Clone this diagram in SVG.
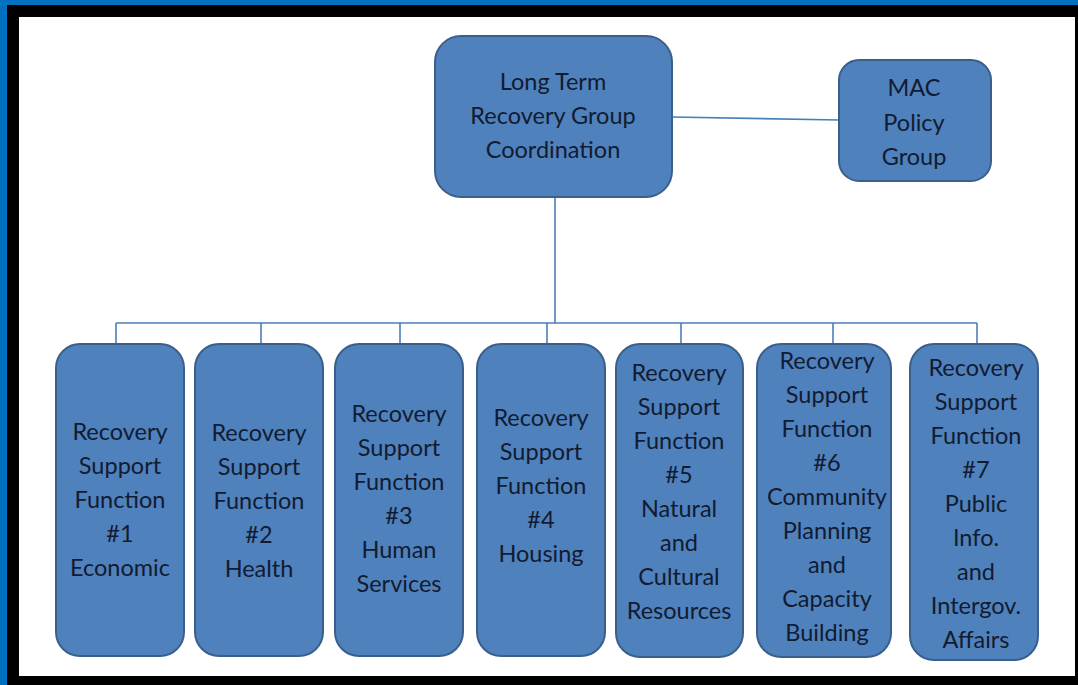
<svg xmlns="http://www.w3.org/2000/svg" width="1078" height="685" viewBox="0 0 1078 685">
  <style>
    .box { fill: #4F81BD; stroke: #3A5F8C; stroke-width: 2; }
    .lbl { font-family: Lato, "Liberation Sans", sans-serif; font-size: 23.5px; fill: #121b30; text-anchor: middle; }
    .conn { stroke: #4A7EBB; stroke-width: 1.6; fill: none; }
  </style>
  <rect x="0" y="0" width="1078" height="685" fill="#0070C0"/>
  <rect x="7" y="5" width="1071" height="680" fill="#000000"/>
  <rect x="19" y="17" width="1056" height="659" fill="#FFFFFF"/>

  <g id="connectors">
    <line class="conn" x1="672" y1="117" x2="839" y2="120"/>
    <line class="conn" x1="555" y1="197" x2="555" y2="323"/>
    <line class="conn" x1="116" y1="323" x2="977" y2="323"/>
    <line class="conn" x1="116" y1="323" x2="116" y2="344"/>
    <line class="conn" x1="261" y1="323" x2="261" y2="344"/>
    <line class="conn" x1="400" y1="323" x2="400" y2="344"/>
    <line class="conn" x1="547" y1="323" x2="547" y2="344"/>
    <line class="conn" x1="681" y1="323" x2="681" y2="344"/>
    <line class="conn" x1="833" y1="323" x2="833" y2="344"/>
    <line class="conn" x1="977" y1="323" x2="977" y2="344"/>
  </g>

  <g id="ltrg">
    <rect class="box" x="435" y="36" width="237" height="161" rx="26"/>
    <text class="lbl" x="553"><tspan x="553" y="90">Long Term</tspan><tspan x="553" y="124">Recovery Group</tspan><tspan x="553" y="158">Coordination</tspan></text>
  </g>

  <g id="mac">
    <rect class="box" x="839" y="60" width="152" height="121" rx="20"/>
    <text class="lbl"><tspan x="914" y="96">MAC</tspan><tspan x="914" y="131">Policy</tspan><tspan x="914" y="165">Group</tspan></text>
  </g>

  <g id="rsf1">
    <rect class="box" x="56" y="344" width="128" height="312" rx="24"/>
    <text class="lbl"><tspan x="120" y="440">Recovery</tspan><tspan x="120" y="474">Support</tspan><tspan x="120" y="508">Function</tspan><tspan x="120" y="542">#1</tspan><tspan x="120" y="576">Economic</tspan></text>
  </g>

  <g id="rsf2">
    <rect class="box" x="195" y="344" width="128" height="312" rx="24"/>
    <text class="lbl"><tspan x="259" y="441">Recovery</tspan><tspan x="259" y="475">Support</tspan><tspan x="259" y="509">Function</tspan><tspan x="259" y="543">#2</tspan><tspan x="259" y="577">Health</tspan></text>
  </g>

  <g id="rsf3">
    <rect class="box" x="335" y="344" width="128" height="312" rx="24"/>
    <text class="lbl"><tspan x="399" y="422">Recovery</tspan><tspan x="399" y="456">Support</tspan><tspan x="399" y="490">Function</tspan><tspan x="399" y="524">#3</tspan><tspan x="399" y="558">Human</tspan><tspan x="399" y="592">Services</tspan></text>
  </g>

  <g id="rsf4">
    <rect class="box" x="477" y="344" width="128" height="312" rx="24"/>
    <text class="lbl"><tspan x="541" y="426">Recovery</tspan><tspan x="541" y="460">Support</tspan><tspan x="541" y="494">Function</tspan><tspan x="541" y="528">#4</tspan><tspan x="541" y="562">Housing</tspan></text>
  </g>

  <g id="rsf5">
    <rect class="box" x="616" y="344" width="127" height="313" rx="24"/>
    <text class="lbl"><tspan x="679" y="381">Recovery</tspan><tspan x="679" y="415">Support</tspan><tspan x="679" y="449">Function</tspan><tspan x="679" y="483">#5</tspan><tspan x="679" y="517">Natural</tspan><tspan x="679" y="551">and</tspan><tspan x="679" y="585">Cultural</tspan><tspan x="679" y="619">Resources</tspan></text>
  </g>

  <g id="rsf6">
    <rect class="box" x="757" y="344" width="134" height="313" rx="24"/>
    <text class="lbl"><tspan x="827" y="369">Recovery</tspan><tspan x="827" y="403">Support</tspan><tspan x="827" y="437">Function</tspan><tspan x="827" y="471">#6</tspan><tspan x="827" y="505">Community</tspan><tspan x="827" y="539">Planning</tspan><tspan x="827" y="573">and</tspan><tspan x="827" y="607">Capacity</tspan><tspan x="827" y="641">Building</tspan></text>
  </g>

  <g id="rsf7">
    <rect class="box" x="910" y="344" width="128" height="316" rx="24"/>
    <text class="lbl"><tspan x="976" y="376">Recovery</tspan><tspan x="976" y="410">Support</tspan><tspan x="976" y="444">Function</tspan><tspan x="976" y="478">#7</tspan><tspan x="976" y="512">Public</tspan><tspan x="976" y="546">Info.</tspan><tspan x="976" y="580">and</tspan><tspan x="976" y="614">Intergov.</tspan><tspan x="976" y="648">Affairs</tspan></text>
  </g>
</svg>
